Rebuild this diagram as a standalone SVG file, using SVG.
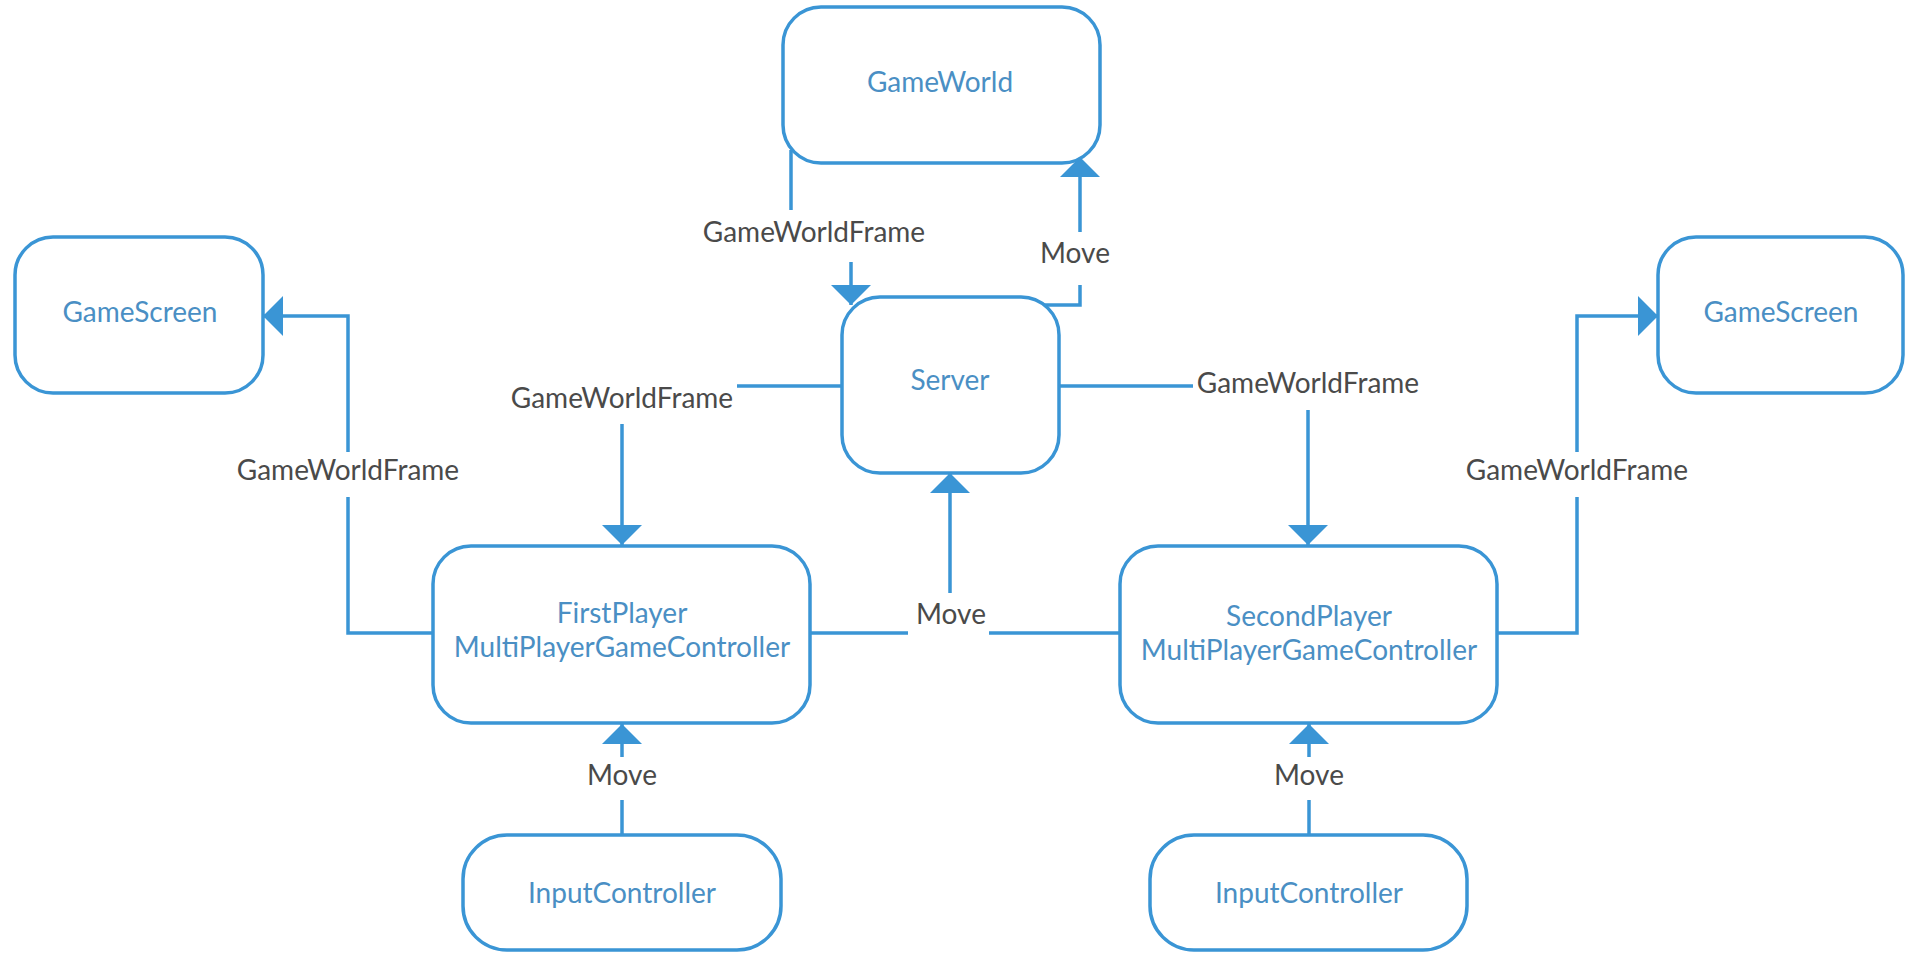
<svg xmlns="http://www.w3.org/2000/svg" width="1905" height="953" viewBox="0 0 1905 953">
<defs>
<marker id="arr" viewBox="0 0 20 40" markerWidth="20" markerHeight="40" refX="20" refY="20" orient="auto" markerUnits="userSpaceOnUse">
<path d="M0,0 L20,20 L0,40 Z" fill="#3a95d5"/>
</marker>
<style>
.node{fill:#fff;stroke:#3a95d5;stroke-width:3.5}
.nt{font-family:Lato,"Liberation Sans",sans-serif;font-size:28px;fill:#4a8fc4;text-anchor:middle}
.edge{fill:none;stroke:#3a95d5;stroke-width:3.5}
.lbg{fill:#fff}
.lt{font-family:Lato,"Liberation Sans",sans-serif;font-size:28px;fill:#4a4a4a;text-anchor:middle}
</style>
</defs>
<rect width="1905" height="953" fill="#fff"/>
<g id="connectors">
<path class="edge" d="M791,150 V231 H851 V305" marker-end="url(#arr)"/>
<path class="edge" d="M1040,305 H1080 V157" marker-end="url(#arr)"/>
<path class="edge" d="M842,386 H622 V545" marker-end="url(#arr)"/>
<path class="edge" d="M1059,386 H1308 V545" marker-end="url(#arr)"/>
<path class="edge" d="M433,633 H348 V316 H263" marker-end="url(#arr)"/>
<path class="edge" d="M1497,633 H1577 V316 H1658" marker-end="url(#arr)"/>
<path class="edge" d="M810,633 H950 V473" marker-end="url(#arr)"/>
<path class="edge" d="M1120,633 H950"/>
<path class="edge" d="M622,835 V724" marker-end="url(#arr)"/>
<path class="edge" d="M1309,835 V724" marker-end="url(#arr)"/>
<rect class="lbg" x="700" y="210" width="228" height="52"/>
<text class="lt" x="814" y="242">GameWorldFrame</text>
<rect class="lbg" x="1044" y="232" width="62" height="53"/>
<text class="lt" x="1075" y="263">Move</text>
<rect class="lbg" x="508" y="372" width="229" height="52"/>
<text class="lt" x="622" y="408">GameWorldFrame</text>
<rect class="lbg" x="1193" y="365" width="230" height="45"/>
<text class="lt" x="1308" y="393">GameWorldFrame</text>
<rect class="lbg" x="232" y="452" width="232" height="45"/>
<text class="lt" x="348" y="480">GameWorldFrame</text>
<rect class="lbg" x="1462" y="452" width="230" height="45"/>
<text class="lt" x="1577" y="480">GameWorldFrame</text>
<rect class="lbg" x="908" y="593" width="81" height="57"/>
<text class="lt" x="951" y="624">Move</text>
<rect class="lbg" x="585" y="757" width="75" height="43"/>
<text class="lt" x="622" y="785">Move</text>
<rect class="lbg" x="1272" y="757" width="75" height="43"/>
<text class="lt" x="1309" y="785">Move</text>
</g>
<g id="gameworld"><rect class="node" x="783" y="7" width="317" height="156" rx="38"/><text class="nt" x="940" y="92">GameWorld</text></g>
<g id="gamescreen-left"><rect class="node" x="15" y="237" width="248" height="156" rx="38"/><text class="nt" x="140" y="322">GameScreen</text></g>
<g id="gamescreen-right"><rect class="node" x="1658" y="237" width="245" height="156" rx="38"/><text class="nt" x="1781" y="322">GameScreen</text></g>
<g id="server"><rect class="node" x="842" y="297" width="217" height="176" rx="38"/><text class="nt" x="950" y="390">Server</text></g>
<g id="firstplayer"><rect class="node" x="433" y="546" width="377" height="177" rx="38"/><text class="nt" x="622" y="623">FirstPlayer</text><text class="nt" x="622" y="657">MultiPlayerGameController</text></g>
<g id="secondplayer"><rect class="node" x="1120" y="546" width="377" height="177" rx="38"/><text class="nt" x="1309" y="626">SecondPlayer</text><text class="nt" x="1309" y="660">MultiPlayerGameController</text></g>
<g id="input-left"><rect class="node" x="463" y="835" width="318" height="115" rx="44"/><text class="nt" x="622" y="903">InputController</text></g>
<g id="input-right"><rect class="node" x="1150" y="835" width="317" height="115" rx="44"/><text class="nt" x="1309" y="903">InputController</text></g>
</svg>
